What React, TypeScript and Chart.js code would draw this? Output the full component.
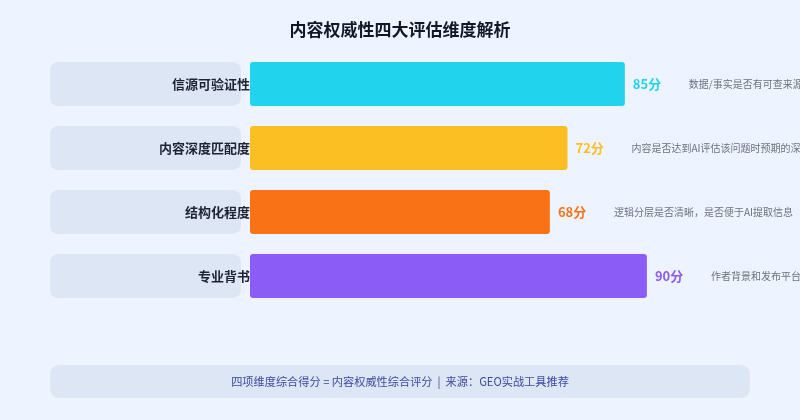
import React, { useEffect, useRef } from 'react';
import { Chart, registerables } from 'chart.js';

Chart.register(...registerables);

const dimensions = ['信源可验证性', '内容深度匹配度', '结构化程度', '专业背书'];
const scores = [85, 72, 68, 90];
const descriptions = [
  '数据/事实是否有可查来源',
  '内容是否达到AI评估该问题时预期的深度',
  '逻辑分层是否清晰，是否便于AI提取信息',
  '作者背景和发布平台是否权威',
];
const barColors = ['#22D3EE', '#FBBF24', '#F97316', '#8B5CF6'];
const titleText = '内容权威性四大评估维度解析';
const footerText = '四项维度综合得分 = 内容权威性综合评分  |  来源：GEO实战工具推荐';

const FONT = '"Noto Sans CJK SC", "Noto Sans", sans-serif';

function roundRect(ctx: CanvasRenderingContext2D, x: number, y: number, w: number, h: number, r: number) {
  ctx.beginPath();
  ctx.moveTo(x + r, y);
  ctx.lineTo(x + w - r, y);
  ctx.quadraticCurveTo(x + w, y, x + w, y + r);
  ctx.lineTo(x + w, y + h - r);
  ctx.quadraticCurveTo(x + w, y + h, x + w - r, y + h);
  ctx.lineTo(x + r, y + h);
  ctx.quadraticCurveTo(x, y + h, x, y + h - r);
  ctx.lineTo(x, y + r);
  ctx.quadraticCurveTo(x, y, x + r, y);
  ctx.closePath();
}

const decorations = {
  id: 'decorations',
  beforeDraw(chart: any) {
    const { ctx, width, height } = chart;
    ctx.save();
    ctx.fillStyle = '#EEF4FF';
    ctx.fillRect(0, 0, width, height);

    ctx.fillStyle = '#111827';
    ctx.font = `bold 17px ${FONT}`;
    ctx.textAlign = 'center';
    ctx.textBaseline = 'middle';
    ctx.fillText(titleText, width / 2, 30);

    // footer
    ctx.fillStyle = '#DDE6F4';
    roundRect(ctx, 50, 365, 700, 33, 10);
    ctx.fill();
    ctx.fillStyle = '#3B4A9E';
    ctx.font = `11.2px ${FONT}`;
    ctx.fillText(footerText, width / 2, 382);
    ctx.restore();
  },
  beforeDatasetsDraw(chart: any) {
    const { ctx } = chart;
    const meta = chart.getDatasetMeta(0);
    ctx.save();
    meta.data.forEach((bar: any) => {
      const h = bar.height;
      ctx.fillStyle = '#DDE6F4';
      roundRect(ctx, 50, bar.y - h / 2, 191, h, 9);
      ctx.fill();
    });
    ctx.restore();
  },
  afterDatasetsDraw(chart: any) {
    const { ctx } = chart;
    const meta = chart.getDatasetMeta(0);
    ctx.save();
    ctx.textBaseline = 'middle';
    meta.data.forEach((bar: any, i: number) => {
      ctx.fillStyle = '#1E2433';
      ctx.font = `bold 13px ${FONT}`;
      ctx.textAlign = 'right';
      ctx.fillText(dimensions[i], 250, bar.y);

      ctx.textAlign = 'left';
      ctx.fillStyle = barColors[i];
      ctx.fillText(`${scores[i]}分`, bar.x + 8, bar.y);

      ctx.fillStyle = '#6B7280';
      ctx.font = `10px ${FONT}`;
      ctx.fillText(descriptions[i], bar.x + 64, bar.y);
    });
    ctx.restore();
  },
};

const App: React.FC = () => {
  const canvasRef = useRef<HTMLCanvasElement>(null);

  useEffect(() => {
    document.body.style.margin = '0';
    if (!canvasRef.current) return;
    const chart = new Chart(canvasRef.current, {
      type: 'bar',
      data: {
        labels: dimensions,
        datasets: [{
          data: scores,
          backgroundColor: barColors,
          borderRadius: 3,
          borderSkipped: false,
          barPercentage: 0.6875,
          categoryPercentage: 1,
        }],
      },
      options: {
        indexAxis: 'y',
        animation: false,
        responsive: true,
        maintainAspectRatio: false,
        layout: { padding: { left: 250, right: 109, top: 52, bottom: 112 } },
        scales: {
          x: { display: false, min: 0, max: 100 },
          y: { display: false },
        },
        plugins: {
          legend: { display: false },
          tooltip: { enabled: false },
        },
      },
      plugins: [decorations],
    });
    return () => chart.destroy();
  }, []);

  return (
    <div style={{ width: 800, height: 420, position: 'relative' }}>
      <canvas ref={canvasRef}></canvas>
    </div>
  );
};

export default App;
